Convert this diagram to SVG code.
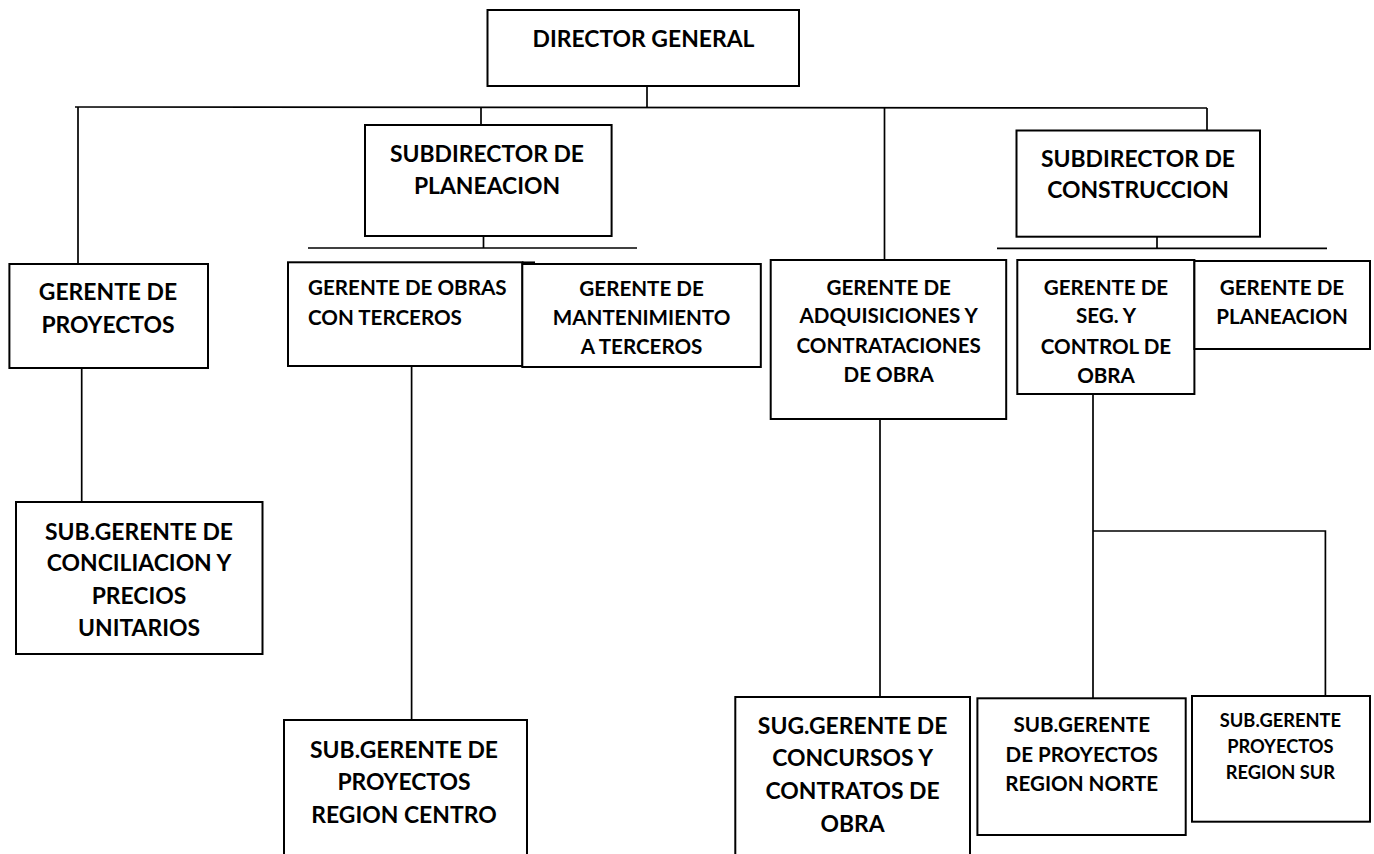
<svg xmlns="http://www.w3.org/2000/svg" width="1374" height="854" viewBox="0 0 1374 854">
<style>
  .box { fill: #ffffff; stroke: #000000; stroke-width: 2; }
  .ln { stroke: #000000; stroke-width: 1.7; fill: none; }
  text { font-family: Lato, "Liberation Sans", sans-serif; font-weight: bold; fill: #000000; }
  .t { font-size: 22.9px; text-anchor: middle; }
  .tm { font-size: 20.6px; text-anchor: middle; }
  .tl { font-size: 20.6px; text-anchor: start; }
  .ts { font-size: 18.3px; text-anchor: middle; }
</style>
<rect x="0" y="0" width="1374" height="854" fill="#ffffff"/>
<g id="connectors">
  <line class="ln" x1="647" y1="86" x2="647" y2="108"/>
  <line class="ln" x1="75" y1="107" x2="1207" y2="108"/>
  <line class="ln" x1="78" y1="107" x2="78" y2="264"/>
  <line class="ln" x1="481" y1="107" x2="481" y2="125"/>
  <line class="ln" x1="884.5" y1="108" x2="884.5" y2="260"/>
  <line class="ln" x1="1207" y1="108" x2="1207" y2="130.5"/>
  <line class="ln" x1="483.5" y1="236" x2="483.5" y2="248"/>
  <line class="ln" x1="308" y1="248" x2="637" y2="248"/>
  <line class="ln" x1="1157" y1="235" x2="1157" y2="248"/>
  <line class="ln" x1="997" y1="248.3" x2="1327" y2="248.3"/>
  <line class="ln" x1="81.7" y1="368" x2="81.7" y2="502"/>
  <line class="ln" x1="411.6" y1="366" x2="411.6" y2="720"/>
  <line class="ln" x1="880" y1="419" x2="880" y2="697"/>
  <line class="ln" x1="1093" y1="394" x2="1093" y2="698"/>
  <polyline class="ln" points="1093,531 1325.4,531 1325.4,696"/>
</g>
<g id="director">
  <rect class="box" x="487.5" y="10" width="311.5" height="76"/>
  <text class="t" x="643.5" y="47">DIRECTOR GENERAL</text>
</g>
<g id="subdirector-planeacion">
  <rect class="box" x="365" y="125" width="246.6" height="111"/>
  <text class="t" x="487" y="162">SUBDIRECTOR DE</text>
  <text class="t" x="487" y="194">PLANEACION</text>
</g>
<g id="subdirector-construccion">
  <rect class="box" x="1016.5" y="130.5" width="243.5" height="106.2"/>
  <text class="t" x="1138" y="167">SUBDIRECTOR DE</text>
  <text class="t" x="1138" y="198">CONSTRUCCION</text>
</g>
<g id="gerente-proyectos">
  <rect class="box" x="9.4" y="264" width="198.6" height="104"/>
  <text class="t" x="108" y="300">GERENTE DE</text>
  <text class="t" x="108" y="333">PROYECTOS</text>
</g>
<g id="gerente-obras-terceros">
  <rect class="box" x="288" y="262.3" width="234.5" height="103.7"/>
  <line class="ln" x1="522" y1="262.3" x2="535" y2="262.3"/>
  <text class="tl" x="308" y="295">GERENTE DE OBRAS</text>
  <text class="tl" x="308" y="325">CON TERCEROS</text>
</g>
<g id="gerente-mantenimiento">
  <rect class="box" x="522.3" y="264" width="238.5" height="103"/>
  <text class="tm" x="641.6" y="296">GERENTE DE</text>
  <text class="tm" x="641.6" y="325">MANTENIMIENTO</text>
  <text class="tm" x="641.6" y="354">A TERCEROS</text>
</g>
<g id="gerente-adquisiciones">
  <rect class="box" x="770.7" y="260" width="235.5" height="159"/>
  <text class="tm" x="888.7" y="295">GERENTE DE</text>
  <text class="tm" x="888.7" y="323">ADQUISICIONES Y</text>
  <text class="tm" x="888.7" y="353">CONTRATACIONES</text>
  <text class="tm" x="888.7" y="382">DE OBRA</text>
</g>
<g id="gerente-seguimiento">
  <rect class="box" x="1017.3" y="260" width="177.1" height="134"/>
  <text class="tm" x="1106" y="295">GERENTE DE</text>
  <text class="tm" x="1106" y="323">SEG. Y</text>
  <text class="tm" x="1106" y="354">CONTROL DE</text>
  <text class="tm" x="1106" y="383">OBRA</text>
</g>
<g id="gerente-planeacion">
  <rect class="box" x="1194.4" y="261" width="175.6" height="88"/>
  <text class="tm" x="1282" y="295">GERENTE DE</text>
  <text class="tm" x="1282" y="324">PLANEACION</text>
</g>
<g id="subgerente-conciliacion">
  <rect class="box" x="16" y="502" width="246.5" height="152"/>
  <text class="t" x="139" y="540">SUB.GERENTE DE</text>
  <text class="t" x="139" y="571">CONCILIACION Y</text>
  <text class="t" x="139" y="604">PRECIOS</text>
  <text class="t" x="139" y="636">UNITARIOS</text>
</g>
<g id="subgerente-centro">
  <rect class="box" x="284" y="720" width="243" height="160"/>
  <text class="t" x="404" y="758">SUB.GERENTE DE</text>
  <text class="t" x="404" y="790">PROYECTOS</text>
  <text class="t" x="404" y="822.6">REGION CENTRO</text>
</g>
<g id="subgerente-concursos">
  <rect class="box" x="735.3" y="697" width="234.7" height="180"/>
  <text class="t" x="852.6" y="734">SUG.GERENTE DE</text>
  <text class="t" x="852.6" y="766">CONCURSOS Y</text>
  <text class="t" x="852.6" y="798.6">CONTRATOS DE</text>
  <text class="t" x="852.6" y="832">OBRA</text>
</g>
<g id="subgerente-norte">
  <rect class="box" x="977.4" y="698.3" width="208.3" height="136.7"/>
  <text class="tm" x="1081.7" y="732.3">SUB.GERENTE</text>
  <text class="tm" x="1081.7" y="761.7">DE PROYECTOS</text>
  <text class="tm" x="1081.7" y="791">REGION NORTE</text>
</g>
<g id="subgerente-sur">
  <rect class="box" x="1192" y="696" width="178" height="125.7"/>
  <text class="ts" x="1280.4" y="726.7">SUB.GERENTE</text>
  <text class="ts" x="1280.4" y="753.3">PROYECTOS</text>
  <text class="ts" x="1280.4" y="779">REGION SUR</text>
</g>
</svg>
